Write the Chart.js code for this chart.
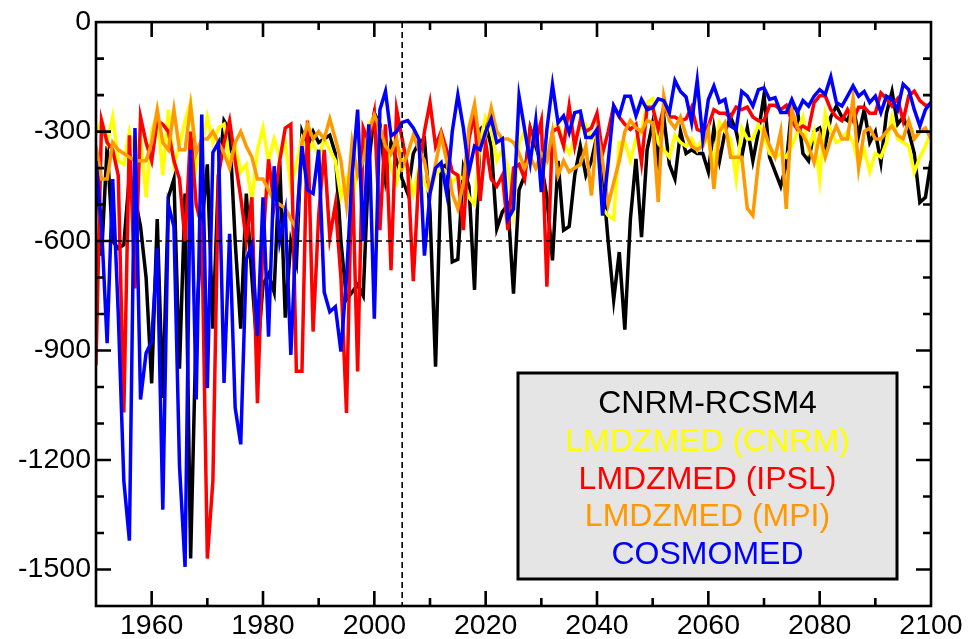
<!DOCTYPE html>
<html>
<head>
<meta charset="utf-8">
<script src="https://cdn.jsdelivr.net/npm/chart.js@4/dist/chart.umd.min.js"></script>
<style>
  html, body { margin: 0; padding: 0; background: #fff; }
  canvas { display: block; }
</style>
</head>
<body>
<canvas id="chart" width="969" height="639"></canvas>
<script>
// years 1950..2100, one value per year
var firstYear = 1950;
var lastYear = 2100;

var cnrmRcsm4 = [
  -350, -640, -340, -600, -620, -610, -420, -480, -560, -700,
  -990, -540, -1030, -480, -430, -950, -470, -1470, -830, -560,
  -390, -840, -420, -270, -295, -600, -840, -470, -700, -910,
  -720, -690, -740, -380, -810, -600, -660, -300, -340, -300,
  -330, -320, -310, -360, -600, -760, -740, -720, -750, -385,
  -250, -280, -430, -330, -380, -430, -470, -360, -330, -320,
  -520, -944, -400, -390, -657, -650, -400, -450, -734, -294,
  -280, -340, -566, -520, -500, -744, -460, -420, -290, -340,
  -390, -480, -653, -380, -570, -560, -420, -340, -420, -380,
  -310, -420, -600, -761, -630, -843, -540, -375, -589, -350,
  -276, -380, -260, -390, -430, -300, -360, -350, -360, -360,
  -410, -290, -380, -300, -260, -300, -370, -290, -380, -300,
  -200, -370, -410, -450, -390, -230, -240, -360, -380, -300,
  -290, -340, -260, -230, -260, -270, -230, -310, -240, -330,
  -300, -385, -250, -190, -280, -260, -300, -360, -494, -480,
  -380
];

var lmdzCnrm = [
  -310, -270, -330, -260, -380, -390, -300, -360, -310, -480,
  -300, -250, -420, -240, -390, -340, -270, -220, -400, -340,
  -260, -330, -290, -280, -380, -340, -410, -390, -490, -350,
  -290, -380, -320, -370, -330, -450, -390, -320, -360, -330,
  -370, -320, -350, -380, -480, -430, -500, -390, -360, -280,
  -260, -300, -320, -400, -440, -360, -410, -470, -400, -440,
  -470, -420, -400, -410, -440, -420, -430, -480, -500, -330,
  -260, -290, -380, -350, -400, -520, -330, -300, -320, -300,
  -420, -380, -300, -280, -330, -360, -320, -290, -280, -320,
  -310, -510, -530, -540, -330, -330, -380, -320, -300, -220,
  -210, -330, -350, -370, -310, -330, -340, -320, -350, -315,
  -330, -385, -275, -300, -320, -430, -290, -320, -320, -280,
  -310, -360, -370, -360, -370, -340, -300, -260, -350, -300,
  -430, -250, -300, -330, -320, -300, -330, -390, -350, -410,
  -360, -370, -330, -260, -320, -330, -340, -412, -370, -340,
  -300
];

var lmdzIpsl = [
  -940, -270, -330, -350, -420, -1070, -310, -730, -260, -330,
  -380, -270, -280, -300, -380, -430, -600, -300, -500, -560,
  -1470, -1257, -420, -330, -270, -380, -480, -600, -480, -1044,
  -600, -376, -500, -380, -290, -280, -957, -957, -270, -848,
  -530, -350, -590, -500, -700, -1071, -380, -957, -290, -330,
  -250, -570, -280, -680, -240, -320, -400, -710, -420, -300,
  -220, -340, -300, -350, -410, -420, -570, -320, -250, -490,
  -330, -430, -450, -420, -570, -400, -390, -430, -290, -330,
  -270, -725, -300, -290, -340, -230, -340, -270, -300, -290,
  -250, -360, -300, -230, -260, -280, -294, -280, -385, -233,
  -233, -294, -233, -260, -260, -270, -265, -233, -294, -300,
  -285, -240, -250, -250, -260, -233, -240, -233, -260, -270,
  -270, -228, -228, -240, -228, -270, -294, -285, -294, -221,
  -202, -202, -240, -260, -270, -240, -270, -233, -233, -250,
  -250, -194, -210, -230, -210, -270, -202, -189, -215, -228,
  -228
];

var lmdzMpi = [
  -340, -430, -430, -330, -350, -360, -370, -380, -380, -380,
  -330, -240, -330, -350, -240, -350, -350, -230, -360, -320,
  -320, -300, -330, -360, -400, -330, -300, -340, -370, -430,
  -430, -460, -490, -500, -510, -540, -565, -330, -280, -320,
  -300, -320, -265, -320, -380, -500, -330, -420, -380, -300,
  -255, -290, -340, -360, -320, -400, -360, -310, -350, -380,
  -466, -390, -310, -380, -470, -512, -440, -290, -225, -340,
  -310, -235, -300, -320, -320, -330, -360, -400, -370, -400,
  -360, -380, -300, -420, -380, -410, -400, -390, -340, -475,
  -300, -380, -500, -440, -380, -300, -270, -290, -300, -270,
  -276, -493, -203, -270, -290, -260, -310, -340, -350, -340,
  -294, -457, -300, -276, -370, -370, -370, -510, -530, -385,
  -294, -339, -370, -300, -512, -240, -290, -310, -340, -385,
  -310, -370, -320, -285, -320, -320, -210, -400, -300, -290,
  -320, -320, -300, -285, -310, -320, -270, -320, -300, -290,
  -320
];

var cosmomed = [
  -380, -560, -880, -430, -800, -1257, -1421, -290, -1034, -907,
  -875, -620, -1336, -500, -560, -1216, -1493, -350, -1034, -253,
  -1003, -357, -330, -989, -580, -1057, -1157, -650, -610, -860,
  -480, -862, -395, -600, -520, -912, -560, -340, -460, -470,
  -350, -740, -794, -780, -903, -700, -420, -240, -600, -280,
  -813, -240, -190, -312, -300, -275, -270, -290, -320, -640,
  -470, -400, -385, -470, -300, -200, -290, -410, -340, -350,
  -300, -265, -330, -320, -540, -512, -203, -294, -385, -270,
  -466, -294, -171, -276, -257, -303, -248, -244, -316, -316,
  -294, -530, -385, -230, -257, -203, -203, -257, -212, -240,
  -235, -210, -215, -248, -160, -190, -205, -276, -160, -321,
  -212, -175, -220, -212, -285, -294, -190, -203, -230, -185,
  -180, -212, -207, -248, -248, -212, -248, -215, -230, -203,
  -185, -198, -150, -220, -230, -203, -175, -203, -190, -220,
  -203, -248, -203, -212, -240, -170, -185, -240, -285, -240,
  -220
];

var xTickLabels = [1960, 1980, 2000, 2020, 2040, 2060, 2080, 2100];
var yTickLabels = [0, -300, -600, -900, -1200, -1500];
var refYear = 2005;   // dashed vertical line
var refLevel = -600;  // dashed horizontal line

var years = [];
for (var yr = firstYear; yr <= lastYear; yr++) years.push(yr);

function toPoints(values) {
  return values.map(function (v, i) { return { x: years[i], y: v }; });
}

var fontFamily = '"Liberation Sans", Arial, Helvetica, sans-serif';

// frame, inward ticks, dashed reference lines
var framePlugin = {
  id: 'frame',
  afterDatasetsDraw: function (chart) {
    var ctx = chart.ctx, a = chart.chartArea;
    var xs = chart.scales.x, ys = chart.scales.y;
    ctx.save();
    ctx.strokeStyle = '#000';

    ctx.lineWidth = 1.6;
    ctx.setLineDash([6, 4]);
    var rx = xs.getPixelForValue(refYear);
    ctx.beginPath(); ctx.moveTo(rx, a.top); ctx.lineTo(rx, a.bottom); ctx.stroke();
    var ry = ys.getPixelForValue(refLevel);
    ctx.beginPath(); ctx.moveTo(a.left, ry); ctx.lineTo(a.right, ry); ctx.stroke();
    ctx.setLineDash([]);

    ctx.lineWidth = 2.6;
    ctx.beginPath();
    for (var v = 1960; v < lastYear; v += 10) {
      var px = xs.getPixelForValue(v);
      var len = (v % 20 === 0) ? 15 : 8;
      ctx.moveTo(px, a.bottom); ctx.lineTo(px, a.bottom - len);
      ctx.moveTo(px, a.top); ctx.lineTo(px, a.top + len);
    }
    for (var w = -1500; w < 0; w += 100) {
      var py = ys.getPixelForValue(w);
      var l2 = (w % 300 === 0) ? 15 : 8;
      ctx.moveTo(a.left, py); ctx.lineTo(a.left + l2, py);
      ctx.moveTo(a.right, py); ctx.lineTo(a.right - l2, py);
    }
    ctx.stroke();
    ctx.strokeRect(a.left, a.top, a.right - a.left, a.bottom - a.top);
    ctx.restore();
  },
  afterDraw: function (chart) {
    // legend box
    var ctx = chart.ctx;
    var bx = 518, by = 373, bw = 379, bh = 206;
    ctx.save();
    ctx.fillStyle = '#e5e5e5';
    ctx.fillRect(bx, by, bw, bh);
    ctx.lineWidth = 3;
    ctx.strokeStyle = '#000';
    ctx.strokeRect(bx, by, bw, bh);
    ctx.font = '32px ' + fontFamily;
    ctx.textAlign = 'center';
    ctx.textBaseline = 'alphabetic';
    chart.data.datasets.forEach(function (ds, i) {
      ctx.fillStyle = ds.borderColor;
      ctx.fillText(ds.label, bx + bw / 2, by + 40 + i * 37.8);
    });
    ctx.restore();
  }
};

var ctx = document.getElementById('chart').getContext('2d');
var myChart = new Chart(ctx, {
  type: 'line',
  data: {
    datasets: [
      { label: 'CNRM-RCSM4', data: toPoints(cnrmRcsm4), borderColor: '#000000', order: 5 },
      { label: 'LMDZMED (CNRM)', data: toPoints(lmdzCnrm), borderColor: '#ffff00', order: 4 },
      { label: 'LMDZMED (IPSL)', data: toPoints(lmdzIpsl), borderColor: '#ff0000', order: 3 },
      { label: 'LMDZMED (MPI)', data: toPoints(lmdzMpi), borderColor: '#ff9900', order: 2 },
      { label: 'COSMOMED', data: toPoints(cosmomed), borderColor: '#0000ff', order: 1 }
    ]
  },
  options: {
    responsive: false,
    devicePixelRatio: 1,
    animation: false,
    layout: { padding: { top: 19, right: 38, left: 0, bottom: 0 } },
    elements: {
      point: { radius: 0 },
      line: { borderWidth: 3.5, tension: 0, fill: false, borderJoinStyle: 'miter' }
    },
    plugins: {
      legend: { display: false },
      tooltip: { enabled: false }
    },
    scales: {
      x: {
        type: 'linear',
        min: firstYear,
        max: lastYear,
        grid: { display: false, drawTicks: false },
        border: { display: false },
        afterBuildTicks: function (scale) {
          scale.ticks = xTickLabels.map(function (v) { return { value: v }; });
        },
        afterFit: function (scale) { scale.height = 33; },
        ticks: {
          color: '#000',
          font: { family: fontFamily, size: 28.5, lineHeight: 1 },
          padding: 6,
          maxRotation: 0,
          autoSkip: false,
          callback: function (v) { return String(v); }
        }
      },
      y: {
        min: -1600,
        max: 0,
        grid: { display: false, drawTicks: false },
        border: { display: false },
        afterBuildTicks: function (scale) {
          scale.ticks = yTickLabels.map(function (v) { return { value: v }; });
        },
        afterFit: function (scale) { scale.width = 96; },
        ticks: {
          color: '#000',
          font: { family: fontFamily, size: 28.5 },
          padding: 5,
          callback: function (v) { return String(v); }
        }
      }
    }
  },
  plugins: [framePlugin]
});
</script>
</body>
</html>
